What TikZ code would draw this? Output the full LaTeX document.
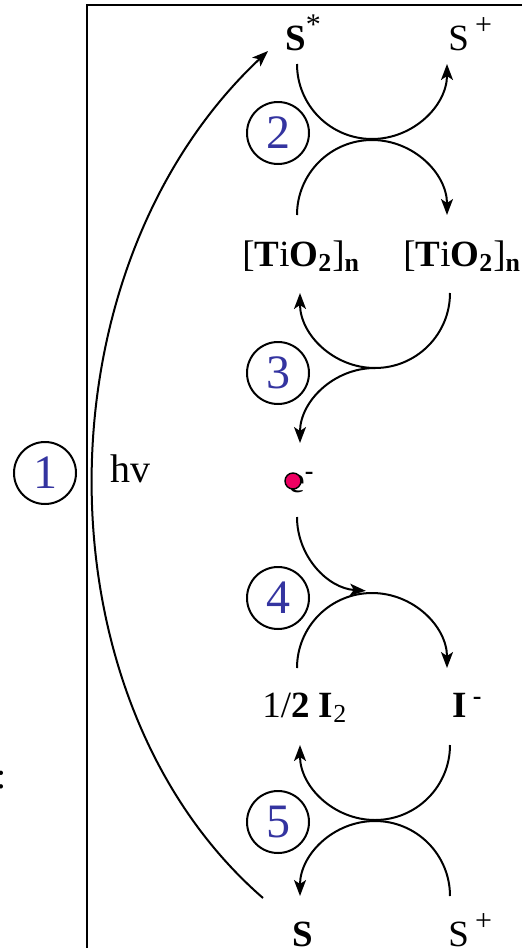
\documentclass[tikz,border=0pt]{standalone}
\usepackage{fontspec}
\setmainfont{Liberation Serif}
\usepackage{tikz}
\usetikzlibrary{arrows.meta}
\definecolor{numB}{RGB}{52,52,160}
\definecolor{elecR}{RGB}{238,0,98}
\newcommand{\chemup}[1]{\raisebox{0.42em}{\fontsize{15}{15}\selectfont #1}}
\tikzset{
  flow/.style={-{Stealth[length=8pt,width=6pt,inset=2pt]}, line width=1pt},
  stepnum/.style={circle, draw, line width=1pt, minimum size=31pt, inner sep=0pt,
    text=numB, font=\fontsize{24}{24}\selectfont},
  chem/.style={inner sep=0pt, anchor=base west, font=\fontsize{18.5}{20}\selectfont}
}

\begin{document}
\begin{tikzpicture}[x=0.5pt, y=-0.5pt]
\useasboundingbox (0,0) rectangle (522,948);
% ===== frame =====
\draw[line width=1.1pt] (522,5) -- (87,5) -- (87,948);
\node[chem, anchor=base] (colon) at (1,788) {:};
% ===== species =====
\node[chem] (sstar) at (285,50) {\textbf{S}\chemup{*}};
\node[chem] (splus) at (448,50) {S\,\chemup{+}};
\node[chem] (tioL) at (242,266) {[\textbf{T}i\textbf{O}\textsubscript{\textbf{2}}]\textsubscript{\textbf{n}}};
\node[chem] (tioR) at (403,266) {[\textbf{T}i\textbf{O}\textsubscript{\textbf{2}}]\textsubscript{\textbf{n}}};
\node[chem] (elec) at (288,492) {e\textsuperscript{\textbf{-}}};
\draw[fill=elecR, line width=0.7pt] (293,481) circle[radius=8];
\node[chem] (ihalf) at (262,717) {1/\textbf{2 I}\textsubscript{2}};
\node[chem] (iminus) at (452,717) {\textbf{I}\,\textsuperscript{\textbf{-}}};
\node[chem] (sgnd) at (292,946) {\textbf{S}};
\node[chem] (splusb) at (448,946) {S\,\chemup{+}};
% ===== step numbers =====
\node[stepnum] (c1) at (45,473) {1};
\foreach \n/\y in {2/133,3/373,4/598,5/822}
  \node[stepnum] (c\n) at (278,\y) {\n};
\node[inner sep=0pt, anchor=base, font=\fontsize{20}{20}\selectfont] (hv) at (130,482) {hv};
% ===== step 1: excitation =====
\coordinate (hvlo) at (263,898);
\coordinate (hvhi) at (268,51);
\draw[flow] (hvlo) .. controls (35,700) and (35,270) .. (hvhi);
% ===== step 2: injection =====
\coordinate (a2) at (297,64);
\draw[flow] (a2) arc[start angle=180, end angle=0, radius=75];
\coordinate (b2) at (297,215);
\draw[flow] (b2) arc[start angle=180, end angle=360, radius=75];
% ===== step 3: transport =====
\coordinate (a3) at (450,293);
\draw[flow] (a3) arc[start angle=0, end angle=180, radius=75];
\coordinate (b3) at (375,368);
\draw[flow] (b3) arc[start angle=270, end angle=180, radius=75];
% ===== step 4: reduction =====
\coordinate (a4) at (297,517);
\draw[flow] (a4) arc[start angle=180, end angle=94, radius=74];
\coordinate (b4) at (297,668);
\draw[flow] (b4) arc[start angle=180, end angle=360, radius=75];
% ===== step 5: regeneration =====
\coordinate (a5) at (450,745);
\draw[flow] (a5) arc[start angle=0, end angle=180, radius=75];
\coordinate (b5) at (450,896);
\draw[flow] (b5) arc[start angle=360, end angle=180, radius=75];
\end{tikzpicture}
\end{document}
